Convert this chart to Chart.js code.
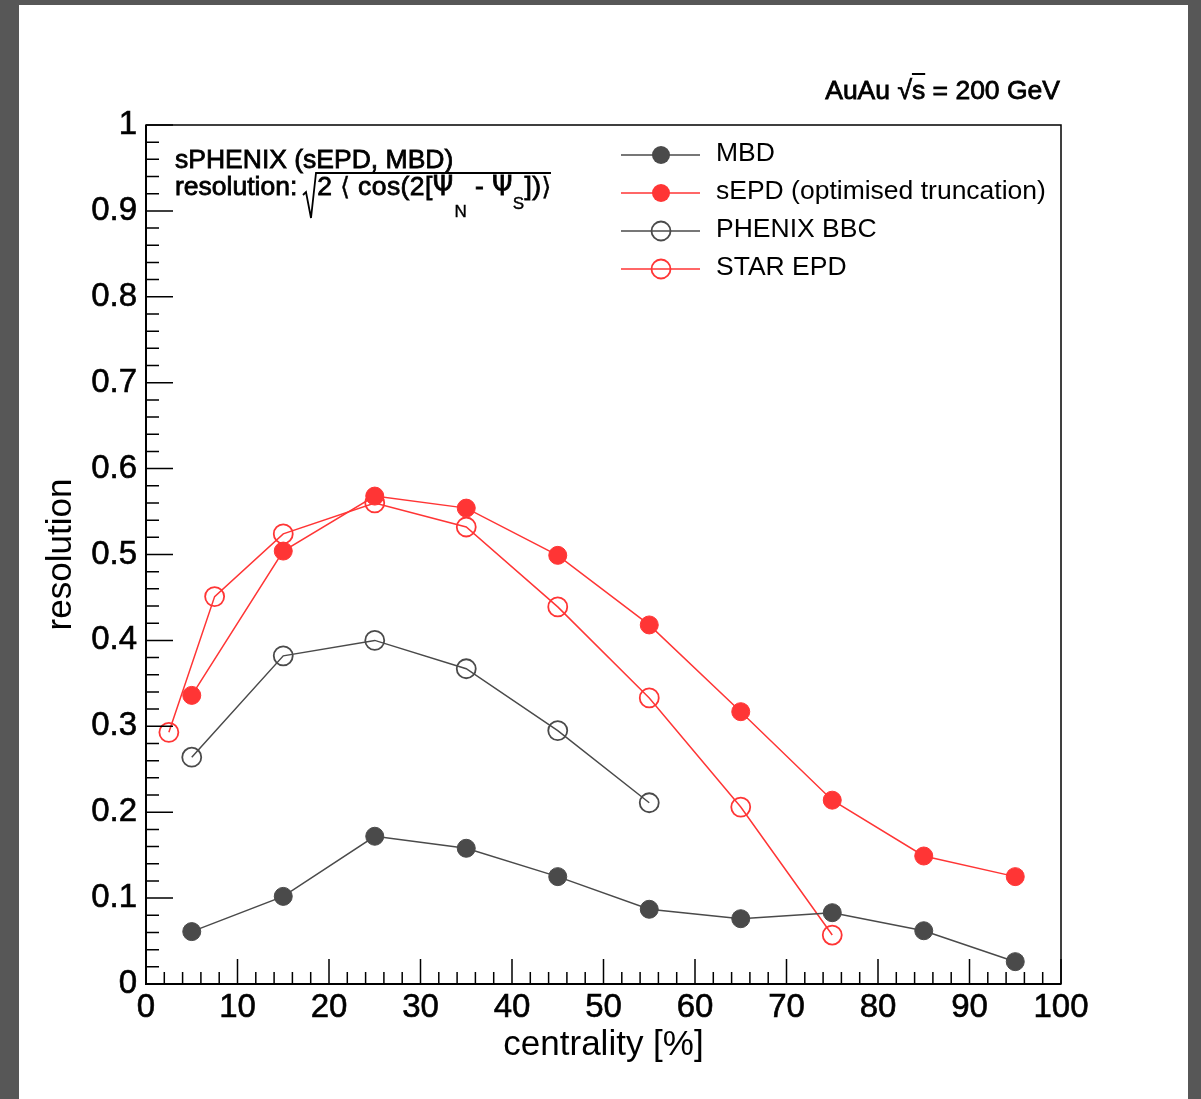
<!DOCTYPE html>
<html>
<head>
<meta charset="utf-8">
<title>Event plane resolution vs centrality</title>
<script src="https://cdn.jsdelivr.net/npm/chart.js@4/dist/chart.umd.min.js"></script>
<style>
  html, body { margin: 0; padding: 0; }
  body {
    width: 1201px; height: 1099px; overflow: hidden; position: relative;
    background: #575757;
    font-family: "Liberation Sans", Arial, Helvetica, sans-serif;
  }
  #panel { position: absolute; left: 19px; top: 5px; width: 1169px; height: 1094px; background: #fff; }
  #plot { position: absolute; left: 0; top: 0; }
  .note {
    position: absolute; font-size: 26.5px; line-height: 26px; color: #000;
    white-space: nowrap; -webkit-text-stroke: 0.8px #000;
  }
  .formula { letter-spacing: 0.4px; }
  .ang { font-family: "DejaVu Sans", sans-serif; font-size: 25px; -webkit-text-stroke: 0.4px #000; }
  .psi { font-family: "DejaVu Sans", sans-serif; font-size: 26px; }
  .subN, .subS { font-size: 17px; position: relative; -webkit-text-stroke: 0.4px #000; }
  .subN { top: 22px; margin-left: 1px; }
  .subS { top: 14px; }
  .over { text-decoration: overline; text-decoration-thickness: 1.5px; }
  #radical { position: absolute; left: 0; top: 0; pointer-events: none; }
</style>
</head>
<body>
<div id="panel"></div>
<canvas id="plot" width="1201" height="1099"></canvas>

<div class="note" style="right:141px; top:77px;">AuAu √<span class="over">s</span> = 200 GeV</div>
<div class="note" style="left:175px; top:146px;">sPHENIX (sEPD, MBD)</div>
<div class="note" style="left:175px; top:173px;">resolution:<span style="display:inline-block;width:20px"></span><span class="formula">2 <span class="ang">⟨</span> cos(2[<span class="psi">Ψ</span><span class="subN">N</span> - <span class="psi">Ψ</span><span class="subS">S</span>])<span class="ang">⟩</span></span></div>
<svg id="radical" width="600" height="240">
  <polyline points="303,195 306,192 311,218 316,173 551,173" fill="none" stroke="#000" stroke-width="1.8" stroke-linejoin="miter"/>
</svg>

<script>
// centrality bin centres [%] and resolution per detector
const centralityMid = [5, 15, 25, 35, 45, 55, 65, 75, 85, 95];
const mbdRes  = [0.061, 0.102, 0.172, 0.158, 0.125, 0.087, 0.076, 0.083, 0.062, 0.026];
const sepdRes = [0.336, 0.504, 0.568, 0.554, 0.499, 0.418, 0.317, 0.214, 0.149, 0.125];

const phenixCent = [5, 15, 25, 35, 45, 55];
const phenixBbcRes = [0.264, 0.382, 0.400, 0.367, 0.295, 0.211];

const starCent = [2.5, 7.5, 15, 25, 35, 45, 55, 65, 75];
const starEpdRes = [0.293, 0.451, 0.524, 0.560, 0.532, 0.439, 0.333, 0.206, 0.057];

const xTickValues = [0, 10, 20, 30, 40, 50, 60, 70, 80, 90, 100];
const xTickLabels = ["0", "10", "20", "30", "40", "50", "60", "70", "80", "90", "100"];
const yTickValues = [0, 0.1, 0.2, 0.3, 0.4, 0.5, 0.6, 0.7, 0.8, 0.9, 1];
const yTickLabels = ["0", "0.1", "0.2", "0.3", "0.4", "0.5", "0.6", "0.7", "0.8", "0.9", "1"];

const GREY = "#4a4a4a";
const RED = "#ff3535";

function toPoints(xs, ys) {
  return xs.map((x, i) => ({ x: x, y: ys[i] }));
}

function series(label, xs, ys, color, filled) {
  return {
    label: label,
    data: toPoints(xs, ys),
    borderColor: color,
    borderWidth: 1.5,
    pointRadius: filled ? 9 : 9.5,
    pointBorderWidth: filled ? 1 : 1.8,
    pointBorderColor: color,
    pointBackgroundColor: filled ? color : "rgba(0,0,0,0)",
    pointStyle: "circle",
    filled: filled,
    tension: 0,
    fill: false,
  };
}

Chart.defaults.font.family = '"Liberation Sans", Arial, Helvetica, sans-serif';
Chart.defaults.color = "#000";

// frame with ROOT-style inward ticks on the left and bottom axes
const frameTicks = {
  id: "frameTicks",
  afterDraw(chart) {
    const { ctx, chartArea: a, scales } = chart;
    const x = scales.x, y = scales.y;
    ctx.save();
    ctx.strokeStyle = "#000";
    ctx.lineWidth = 1.5;
    ctx.beginPath();
    for (let v = 0; v <= 100; v += 2) {
      const px = x.getPixelForValue(v);
      const len = v % 10 === 0 ? 25 : 12;
      ctx.moveTo(px, a.bottom);
      ctx.lineTo(px, a.bottom - len);
    }
    for (let k = 0; k <= 50; k++) {
      const py = y.getPixelForValue(k * 0.02);
      const len = k % 5 === 0 ? 27 : 13;
      ctx.moveTo(a.left, py);
      ctx.lineTo(a.left + len, py);
    }
    ctx.stroke();
    ctx.strokeRect(a.left, a.top, a.right - a.left, a.bottom - a.top);
    ctx.lineWidth = 2;
    ctx.beginPath();
    ctx.moveTo(a.left, a.top);
    ctx.lineTo(a.left, a.bottom);
    ctx.lineTo(a.right, a.bottom);
    ctx.stroke();
    ctx.restore();
  }
};

// legend drawn inside the frame, top right
const legendBox = {
  id: "legendBox",
  afterDraw(chart) {
    const ctx = chart.ctx;
    ctx.save();
    ctx.font = '26.5px "Liberation Sans", Arial, sans-serif';
    ctx.textBaseline = "middle";
    chart.data.datasets.forEach((ds, i) => {
      const cy = 155 + i * 38;
      ctx.strokeStyle = ds.borderColor;
      ctx.lineWidth = ds.borderWidth;
      ctx.beginPath();
      ctx.moveTo(621, cy);
      ctx.lineTo(700, cy);
      ctx.stroke();
      ctx.beginPath();
      ctx.arc(661, cy, ds.pointRadius, 0, Math.PI * 2);
      if (ds.filled) {
        ctx.fillStyle = ds.pointBackgroundColor;
        ctx.fill();
      } else {
        ctx.lineWidth = ds.pointBorderWidth;
        ctx.stroke();
      }
      ctx.fillStyle = "#000";
      ctx.fillText(ds.label, 716, cy - 1);
    });
    ctx.restore();
  }
};

new Chart(document.getElementById("plot"), {
  type: "line",
  data: {
    datasets: [
      series("MBD", centralityMid, mbdRes, GREY, true),
      series("sEPD (optimised truncation)", centralityMid, sepdRes, RED, true),
      series("PHENIX BBC", phenixCent, phenixBbcRes, GREY, false),
      series("STAR EPD", starCent, starEpdRes, RED, false),
    ],
  },
  options: {
    responsive: false,
    animation: false,
    devicePixelRatio: 1,
    layout: { padding: { top: 125, right: 140, left: 0, bottom: 0 } },
    plugins: { legend: { display: false }, tooltip: { enabled: false } },
    scales: {
      x: {
        type: "linear",
        min: 0,
        max: 100,
        afterFit: (s) => { s.height = 115; },
        afterBuildTicks: (s) => { s.ticks = xTickValues.map((v) => ({ value: v })); },
        ticks: {
          callback: (v, i) => xTickLabels[i],
          font: { size: 33 },
          color: "#000",
          textStrokeColor: "#000",
          textStrokeWidth: 0.6,
          padding: 4,
          maxRotation: 0,
          autoSkip: false,
        },
        grid: { display: false, drawTicks: false },
        border: { display: false },
        title: {
          display: true,
          text: "centrality [%]",
          font: { size: 35 },
          color: "#000",
          padding: { top: 0, bottom: 33 },
        },
      },
      y: {
        type: "linear",
        min: 0,
        max: 1,
        afterFit: (s) => { s.width = 146; },
        afterBuildTicks: (s) => { s.ticks = yTickValues.map((v) => ({ value: v })); },
        ticks: {
          callback: (v, i) => yTickLabels[i],
          font: { size: 33 },
          color: "#000",
          textStrokeColor: "#000",
          textStrokeWidth: 0.6,
          padding: 9,
          autoSkip: false,
        },
        grid: { display: false, drawTicks: false },
        border: { display: false },
        title: {
          display: true,
          text: "resolution",
          font: { size: 35 },
          color: "#000",
          padding: { top: 40, bottom: 0 },
        },
      },
    },
  },
  plugins: [frameTicks, legendBox],
});
</script>
</body>
</html>
